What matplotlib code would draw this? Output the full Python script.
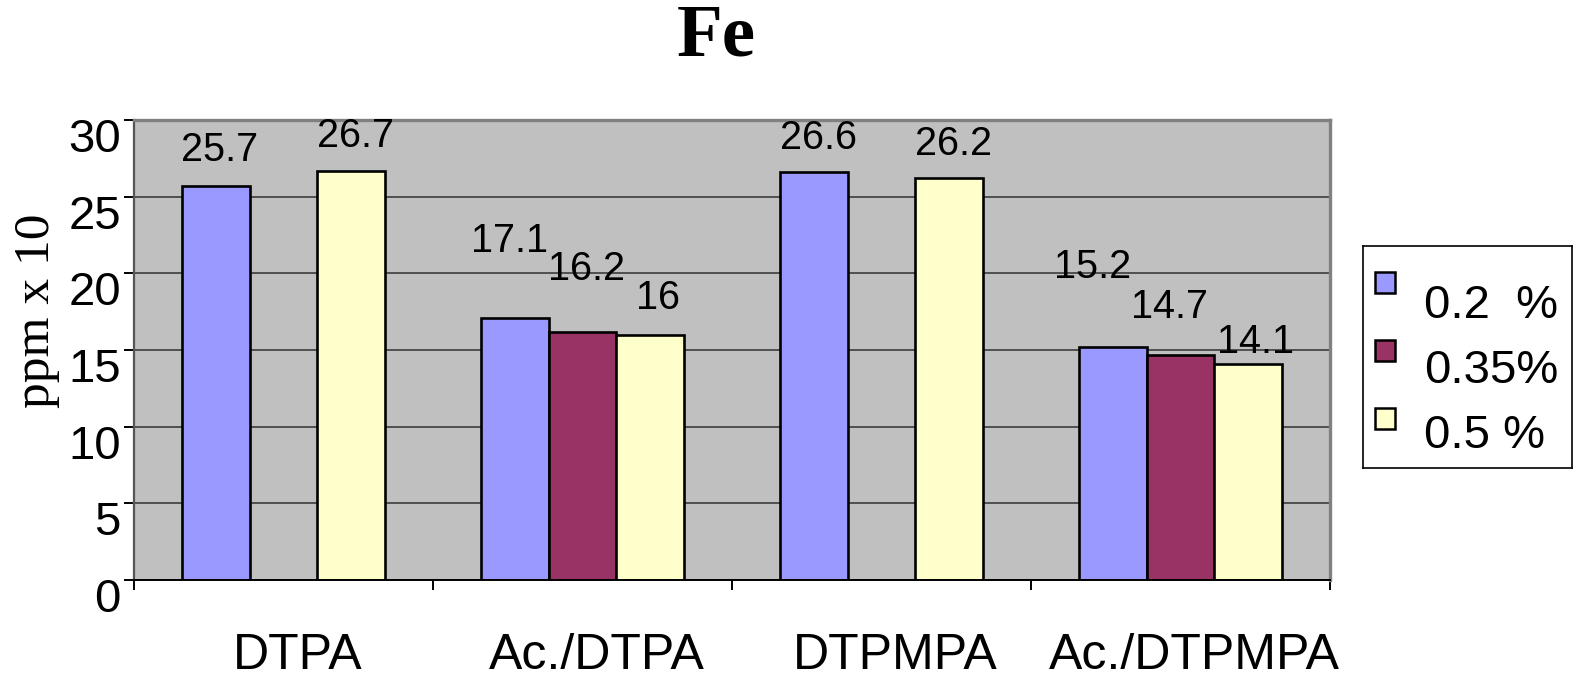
import numpy as np
import matplotlib
matplotlib.use("Agg")
import matplotlib.pyplot as plt
import matplotlib.transforms as mtransforms
from matplotlib.patches import Rectangle


# ── 1. Data ───────────────────────────────────────────────────────────────────

categories = ["DTPA", "Ac./DTPA", "DTPMPA", "Ac./DTPMPA"]
series_names = ["0.2  %", "0.35%", "0.5 %"]
vals_02 = [25.7, 17.1, 26.6, 15.2]
vals_035 = [np.nan, 16.2, np.nan, 14.7]
vals_05 = [26.7, 16.0, 26.2, 14.1]
series_vals = [vals_02, vals_035, vals_05]

colors = ["#9999FF", "#993366", "#FFFFCC"]

# hand placed value labels (pixel offset of label centre from bar top)
label_dx = [[4, -5, 5, -20], [0, 4, 0, -11], [4, 8, 4, 7]]
label_dy = [[36, 77, 34, 80], [0, 63, 0, 48], [35, 37, 34, 22]]


# ── 2. Figure ─────────────────────────────────────────────────────────────────

W, H = 1580, 677
fig = plt.figure(figsize=(W / 100, H / 100), dpi=100)
sans = "Liberation Sans"
serif = "Liberation Serif"

# plot area in pixels: x 134..1330, y 120..580 (from top)
ax = fig.add_axes([134 / W, 1 - 580 / H, (1330 - 134) / W, (580 - 120) / H])
ax.set_facecolor("#C0C0C0")

x = np.arange(len(categories))
bw = 0.226
for i, vals in enumerate(series_vals):
    v = np.array(vals, dtype=float)
    ok = ~np.isnan(v)
    pos = x + (i - 1) * bw
    ax.bar(pos[ok], v[ok], width=bw, color=colors[i], edgecolor="black",
           linewidth=1.9, zorder=3)
    for j in np.where(ok)[0]:
        ax.annotate(f"{v[j]:g}", (pos[j], v[j]),
                    xytext=(label_dx[i][j], label_dy[i][j]),
                    textcoords="offset pixels", ha="center", va="center",
                    fontsize=28.5, family=sans, zorder=4)

ax.set_xlim(-0.5, len(categories) - 0.5)
ax.set_ylim(0, 30)
ax.set_yticks(range(0, 31, 5))
for yv in range(5, 30, 5):
    ax.axhline(yv, color="#3c3c3c", lw=1.2, zorder=1)
ax.axhline(0, color="black", lw=1.4, zorder=5)

# spines
for s in ["top", "right"]:
    ax.spines[s].set_color("#808080")
    ax.spines[s].set_linewidth(2.4)
ax.spines["left"].set_color("#555555")
ax.spines["left"].set_linewidth(1.6)
ax.spines["bottom"].set_color("black")
ax.spines["bottom"].set_linewidth(1.4)

# x ticks between categories, labels at centres
ax.set_xticks(np.arange(-0.5, len(categories), 1.0))
ax.set_xticklabels([])
ax.tick_params(axis="x", which="major", direction="out", length=7.5,
               width=1.4, color="black")
ax.set_xticks(x, minor=True)
ax.set_xticklabels(categories, minor=True, fontsize=36, family=sans)
ax.tick_params(axis="x", which="minor", length=0, pad=38)
shift_x = mtransforms.ScaledTranslation(14 / 100, 0, fig.dpi_scale_trans)
for lab in ax.get_xticklabels(minor=True):
    lab.set_transform(lab.get_transform() + shift_x)

ax.tick_params(axis="y", direction="out", length=7.5, width=1.4,
               color="black", pad=2, labelsize=34)
shift_y = mtransforms.ScaledTranslation(0, -15 / 100, fig.dpi_scale_trans)
for lab in ax.get_yticklabels():
    lab.set_family(sans)
    lab.set_transform(lab.get_transform() + shift_y)

ax.set_ylabel("ppm x 10", fontsize=37, family=serif, va="center")
ax.yaxis.set_label_coords(-0.081, (580 - 311) / 460)

fig.text(716 / W, 1 - 38 / H, "Fe", fontsize=54, family=serif,
         fontweight="bold", ha="center", va="center")


# ── 3. Legend (drawn by hand, pixel coords) ───────────────────────────────────

lax = fig.add_axes([1363 / W, 1 - 468 / H, (1572 - 1363) / W, (468 - 246) / H])
lax.set_xlim(1363, 1572)
lax.set_ylim(468, 246)
lax.set_xticks([])
lax.set_yticks([])
for s in lax.spines.values():
    s.set_linewidth(1.2)
    s.set_color("black")
for i, name in enumerate(series_names):
    cy = 282 + 68 * i
    lax.add_patch(Rectangle((1375, cy - 10), 20, 21, facecolor=colors[i],
                            edgecolor="black", linewidth=1.8))
    lax.text(1424, 306 + 65 * i, name, fontsize=34, family=sans,
             ha="left", va="center")

fig.savefig("out.png", dpi=100)
